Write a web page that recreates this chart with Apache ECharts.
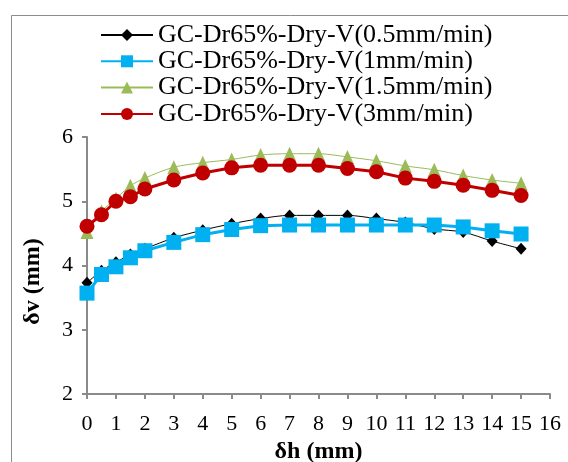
<!DOCTYPE html>
<html>
<head>
<meta charset="utf-8">
<script src="https://cdn.jsdelivr.net/npm/echarts@6/dist/echarts.min.js"></script>
<style>
  html, body { margin: 0; padding: 0; background: #fff; }
  #chart { width: 568px; height: 462px; }
</style>
</head>
<body>
<div id="chart"></div>
<script>
// Horizontal displacement positions (mm)
var dh = [0, 0.5, 1, 1.5, 2, 3, 4, 5, 6, 7, 8, 9, 10, 11, 12, 13, 14, 15];

// Vertical displacement (mm) for each loading rate
var v05 = [3.73, 3.92, 4.05, 4.17, 4.26, 4.43, 4.55, 4.65, 4.73, 4.78, 4.78, 4.78, 4.73, 4.67, 4.57, 4.52, 4.38, 4.26];
var v1  = [3.57, 3.86, 3.98, 4.12, 4.23, 4.36, 4.48, 4.56, 4.62, 4.63, 4.63, 4.63, 4.63, 4.63, 4.63, 4.60, 4.54, 4.49];
var v15 = [4.52, 4.84, 5.04, 5.24, 5.36, 5.53, 5.60, 5.65, 5.72, 5.74, 5.74, 5.69, 5.63, 5.55, 5.49, 5.40, 5.33, 5.28];
var v3  = [4.61, 4.79, 5.00, 5.07, 5.19, 5.33, 5.44, 5.52, 5.56, 5.56, 5.56, 5.51, 5.46, 5.36, 5.31, 5.25, 5.17, 5.09];

var names = [
  'GC-Dr65%-Dry-V(0.5mm/min)',
  'GC-Dr65%-Dry-V(1mm/min)',
  'GC-Dr65%-Dry-V(1.5mm/min)',
  'GC-Dr65%-Dry-V(3mm/min)'
];

var xTicks = [0, 16, 1];   // min, max, interval
var yTicks = [2, 6, 1];

function pairs(ys) {
  return dh.map(function (x, i) { return [x, ys[i]]; });
}

var serif = 'Liberation Serif, Times New Roman, serif';
var axisGray = '#8a8a8a';

var chart = echarts.init(document.getElementById('chart'), null, { renderer: 'canvas' });

chart.setOption({
  animation: false,
  backgroundColor: '#ffffff',
  graphic: [{
    type: 'rect',
    shape: { x: 11.5, y: 15.5, width: 600, height: 500 },
    style: { fill: 'none', stroke: '#8c8c8c', lineWidth: 1 },
    silent: true,
    z: -1
  }],
  legend: {
    orient: 'vertical',
    left: 100,
    top: 22,
    padding: 0,
    itemGap: 0.3,
    itemWidth: 52,
    itemHeight: 15,
    textStyle: { fontFamily: serif, fontSize: 26, color: '#000', lineHeight: 26 },
    data: names
  },
  grid: { left: 87, right: 18, top: 137, bottom: 68, containLabel: false, outerBoundsMode: 'none' },
  xAxis: {
    type: 'value',
    min: xTicks[0], max: xTicks[1], interval: xTicks[2],
    name: 'δh (mm)',
    nameLocation: 'middle',
    nameGap: 45,
    nameTextStyle: { fontFamily: serif, fontSize: 24, fontWeight: 'bold', color: '#000' },
    axisLine: { show: true, onZero: false, lineStyle: { color: axisGray, width: 2 } },
    axisTick: { show: true, inside: false, length: 5, lineStyle: { color: axisGray, width: 2 } },
    axisLabel: { margin: 19, fontFamily: serif, fontSize: 22, color: '#000' },
    splitLine: { show: false }
  },
  yAxis: {
    type: 'value',
    min: yTicks[0], max: yTicks[1], interval: yTicks[2],
    name: 'δv (mm)',
    nameLocation: 'middle',
    nameGap: 42,
    nameTextStyle: { fontFamily: serif, fontSize: 24, fontWeight: 'bold', color: '#000', padding: [0, 32, 0, 0] },
    axisLine: { show: true, lineStyle: { color: axisGray, width: 2 } },
    axisTick: { show: true, inside: false, length: 5, lineStyle: { color: axisGray, width: 2 } },
    axisLabel: { margin: 14, fontFamily: serif, fontSize: 22, color: '#000' },
    splitLine: { show: false }
  },
  series: [
    {
      name: names[0], type: 'line', data: pairs(v05),
      smooth: 0.3,
      symbol: 'diamond', symbolSize: [11, 12],
      lineStyle: { color: '#000000', width: 1 },
      itemStyle: { color: '#000000' },
      z: 1
    },
    {
      name: names[1], type: 'line', data: pairs(v1),
      symbol: 'rect', symbolSize: 15,
      lineStyle: { color: '#00b0f0', width: 3 },
      itemStyle: { color: '#00b0f0' },
      z: 2
    },
    {
      name: names[2], type: 'line', data: pairs(v15),
      smooth: 0.3,
      symbol: 'triangle', symbolSize: [13, 14],
      lineStyle: { color: '#9bbb59', width: 1 },
      itemStyle: { color: '#9bbb59' },
      z: 3
    },
    {
      name: names[3], type: 'line', data: pairs(v3),
      symbol: 'circle', symbolSize: 15,
      lineStyle: { color: '#c00000', width: 3 },
      itemStyle: { color: '#c00000' },
      z: 4
    }
  ]
});
</script>
</body>
</html>
